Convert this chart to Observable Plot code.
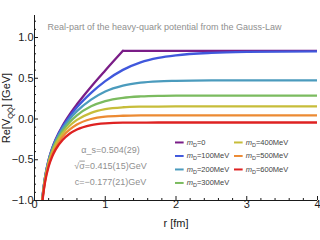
<!DOCTYPE html>
<html><head><meta charset="utf-8">
<script src="https://cdn.jsdelivr.net/npm/d3@7"></script>
<script src="https://cdn.jsdelivr.net/npm/@observablehq/plot@0.6"></script>
<style>
html,body{margin:0;padding:0;background:#fff;}
#chart{width:320px;height:240px;overflow:hidden;}
</style></head><body><div id="chart"></div>
<script>
// ---- text ----
const title = "Real-part of the heavy-quark potential from the Gauss-Law";
const xLabel = "r [fm]";
const yLabel = "Re[V_QQ] [GeV]";
const fitText = ["α_s=0.504(29)", "√σ=0.415(15)GeV", "c=−0.177(21)GeV"];

// ---- series ----
const mD = [0, 100, 200, 300, 400, 500, 600];           // Debye mass [MeV]
const colors = ["#7a1d87", "#4058dc", "#4b9bbd", "#7bbb5f", "#c7bd3a", "#ec8a33", "#de2222"];

const rGrid = [0.1, 0.12, 0.15, 0.2, 0.25, 0.3, 0.4, 0.5, 0.6, 0.8, 1.0, 1.25, 1.5, 1.75, 2.0, 2.5, 3.0, 4.0];
const rM0 = [0.1, 0.12, 0.15, 0.2, 0.25, 0.3, 0.4, 0.5, 0.6, 0.8, 1.0, 1.25];
const vM0 = [-1.084, -0.901, -0.709, -0.500, -0.357, -0.247, -0.076, 0.061, 0.181, 0.397, 0.596, 0.837];
const rM0Plateau = [1.25, 4.0];
const vM0Plateau = [0.837, 0.837];
const vM100 = [-1.086, -0.903, -0.711, -0.503, -0.362, -0.254, -0.091, 0.036, 0.143, 0.320, 0.465, 0.603, 0.695, 0.750, 0.782, 0.812, 0.823, 0.829];
const vM200 = [-1.089, -0.907, -0.717, -0.512, -0.373, -0.269, -0.113, 0.004, 0.097, 0.238, 0.338, 0.410, 0.446, 0.462, 0.468, 0.473, 0.474, 0.474];
const vM300 = [-1.096, -0.915, -0.727, -0.524, -0.389, -0.288, -0.142, -0.036, 0.045, 0.156, 0.220, 0.260, 0.277, 0.284, 0.286, 0.288, 0.288, 0.288];
const vM400 = [-1.104, -0.925, -0.739, -0.540, -0.409, -0.313, -0.175, -0.080, -0.011, 0.076, 0.121, 0.144, 0.151, 0.153, 0.154, 0.154, 0.154, 0.154];
const vM500 = [-1.114, -0.937, -0.754, -0.560, -0.433, -0.352, -0.213, -0.128, -0.068, 0.000, 0.029, 0.040, 0.044, 0.045, 0.045, 0.045, 0.045, 0.045];
const vM600 = [-1.127, -0.952, -0.772, -0.583, -0.461, -0.373, -0.255, -0.178, -0.128, -0.074, -0.053, -0.045, -0.044, -0.043, -0.043, -0.043, -0.043, -0.043];

// ---- ticks ----
const xTicks = [0, 1, 2, 3, 4];
const xMinor = [0.2, 0.4, 0.6, 0.8, 1.2, 1.4, 1.6, 1.8, 2.2, 2.4, 2.6, 2.8, 3.2, 3.4, 3.6, 3.8];
const yTicks = [-1, -0.5, 0, 0.5, 1];
const yMinor = [-0.9, -0.8, -0.7, -0.6, -0.4, -0.3, -0.2, -0.1, 0.1, 0.2, 0.3, 0.4, 0.6, 0.7, 0.8, 0.9, 1.1, 1.2];

// ---- build tables ----
const labels = mD.map(m => m === 0 ? "m_D=0" : `m_D=${m}MeV`);
const seriesVals = [vM0, vM100, vM200, vM300, vM400, vM500, vM600];
const rows = [];
seriesVals.forEach((vals, i) => {
  const rs = i === 0 ? rM0 : rGrid;
  vals.forEach((v, j) => rows.push({r: rs[j], v, key: labels[i], seg: labels[i]}));
  if (i === 0) rM0Plateau.forEach((r, j) => rows.push({r, v: vM0Plateau[j], key: labels[0], seg: "m0-plateau"}));
});

// legend layout (in data units)
const LEG = {x0: 1.993, colStep: 0.834, swatch: 0.122, textOff: 0.158, y0: -0.288, rowStep: 0.1656};
const legendItems = labels.map((label, i) => {
  const col = i < 4 ? 0 : 1, row = i < 4 ? i : i - 4;
  const x = LEG.x0 + col * LEG.colStep;
  return {label, x1: x, x2: x + LEG.swatch, tx: x + LEG.textOff, y: LEG.y0 - row * LEG.rowStep};
});
const ANN = {x: 1.074, y: -0.546};

const font = "'Liberation Sans', Arial, sans-serif";
const chart = Plot.plot({
  width: 320, height: 240,
  marginLeft: 34, marginRight: 3, marginTop: 15, marginBottom: 40,
  style: {fontFamily: font, fontSize: "11px", color: "#1a1a1a", background: "#fff"},
  x: {domain: [0, 4]},
  y: {domain: [-1, 1.27]},
  color: {domain: labels, range: colors},
  marks: [
    Plot.text([title], {frameAnchor: "top-left", dx: 13, dy: 12, lineAnchor: "middle", textAnchor: "start", fontSize: 9, fill: "#8f8f8f"}),
    Plot.text([fitText.join("\n")], {x: () => ANN.x, y: () => ANN.y, lineAnchor: "middle", textAnchor: "middle", fontSize: 9, lineHeight: 1.78, fill: "#8f8f8f"}),
    Plot.line(rows, {x: "r", y: "v", z: "seg", stroke: "key", strokeWidth: 2.3, curve: "monotone-x", clip: true}),
    Plot.ruleY(legendItems, {y: "y", x1: "x1", x2: "x2", stroke: "label", strokeWidth: 2}),
    Plot.text(legendItems, {x: "tx", y: "y", text: "label", textAnchor: "start", fontSize: 7.5, fill: "#444"}),
    Plot.axisX(xTicks, {tickSize: -4, tickPadding: 4, tickFormat: d => String(d), label: xLabel, labelAnchor: "center", labelArrow: "none", labelOffset: 26}),
    Plot.axisX(xMinor, {tickSize: -2, tickFormat: () => "", label: null}),
    Plot.axisY(yTicks, {tickSize: -4, tickPadding: 5, tickFormat: d3.format(".1f"), label: yLabel, labelAnchor: "center", labelArrow: "none", labelOffset: 32}),
    Plot.axisY(yMinor, {tickSize: -2, tickFormat: () => "", label: null}),
    Plot.ruleX([0], {stroke: "#1a1a1a"}),
    Plot.ruleY([-1], {stroke: "#1a1a1a"})
  ]
});
document.getElementById("chart").appendChild(chart);

// rich text post-processing (subscripts, italics, overline)
const svg = d3.select(chart);
svg.selectAll("text, tspan").each(function() {
  const t = this.textContent;
  if (this.childElementCount > 0 && this.tagName === "text" && !t.startsWith("m_D") && t !== yLabel) return;
  if (t.startsWith("m_D=")) {
    const rest = t.slice(4);
    this.innerHTML = `<tspan font-style="italic">m</tspan><tspan dy="1.8" font-size="5.5">D</tspan><tspan dy="-1.8">=${rest}</tspan>`;
  } else if (t === yLabel) {
    this.innerHTML = `Re[V<tspan dy="2.5" font-size="7.5">QQ\u0304</tspan><tspan dy="-2.5">] [GeV]</tspan>`;
  } else if (this.tagName === "tspan" && t.startsWith("√σ")) {
    this.innerHTML = `√<tspan style="text-decoration:overline">σ</tspan>${t.slice(2)}`;
  }
});
</script></body></html>
